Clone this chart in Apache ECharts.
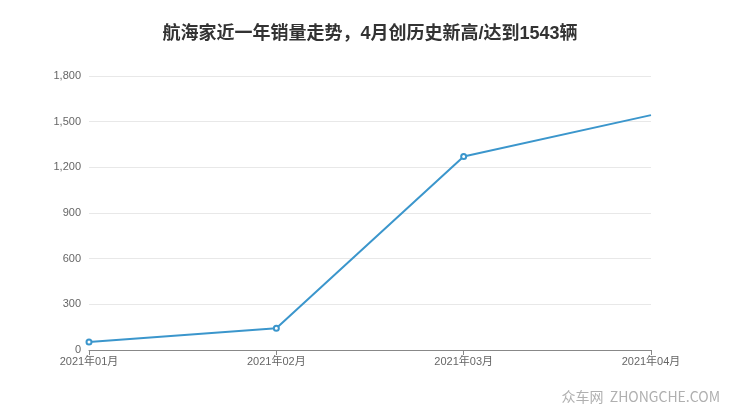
<!DOCTYPE html>
<html>
<head>
<meta charset="utf-8">
<script src="https://cdn.jsdelivr.net/npm/echarts@6/dist/echarts.min.js"></script>
<style>
  html, body {margin: 0; padding: 0; background: #fff;}
  #chart {width: 740px; height: 417px;}
</style>
</head>
<body>
<div id="chart"></div>
<script>
// 销量数据
const months = ['2021年01月', '2021年02月', '2021年03月', '2021年04月'];
const sales = [53, 143, 1271, 1543];
const titleText = '航海家近一年销量走势，4月创历史新高/达到1543辆';

const chartDom = document.getElementById('chart');
const myChart = echarts.init(chartDom);

const seriesData = sales.map((v, i) => {
  // 最后一个点在参考图里没有圆点
  return i === sales.length - 1 ? {value: v, symbol: 'none'} : v;
});

const fontStack = '"Liberation Sans", "Noto Sans CJK SC", sans-serif';

const option = {
  backgroundColor: '#fff',
  title: {
    text: titleText,
    left: 'center',
    top: 20,
    textStyle: {
      fontSize: 18,
      fontWeight: 'bold',
      color: '#333',
      fontFamily: fontStack
    }
  },
  graphic: [{
    type: 'text',
    right: 20,
    top: 390,
    style: {
      text: '众车网  ZHONGCHE.COM',
      fill: '#b0b0b0',
      font: '14px "Noto Sans CJK SC"'
    }
  }],
  grid: {left: 89, right: 89, top: 76, bottom: 67},
  xAxis: {
    type: 'category',
    boundaryGap: false,
    data: months,
    axisLine: {lineStyle: {color: '#888'}},
    axisTick: {show: true, lineStyle: {color: '#888'}},
    axisLabel: {color: '#666', fontSize: 11, margin: 6, fontFamily: fontStack}
  },
  yAxis: {
    type: 'value',
    min: 0,
    max: 1800,
    interval: 300,
    axisLine: {show: false},
    axisTick: {show: false},
    axisLabel: {color: '#666', fontSize: 11, margin: 8, fontFamily: fontStack},
    splitLine: {lineStyle: {color: '#e8e8e8'}}
  },
  series: [{
    type: 'line',
    data: seriesData,
    symbol: 'emptyCircle',
    symbolSize: 5,
    lineStyle: {color: '#3b96cc', width: 2},
    itemStyle: {color: '#3b96cc', borderWidth: 1.5}
  }]
};
option && myChart.setOption(option);
</script>
</body>
</html>
